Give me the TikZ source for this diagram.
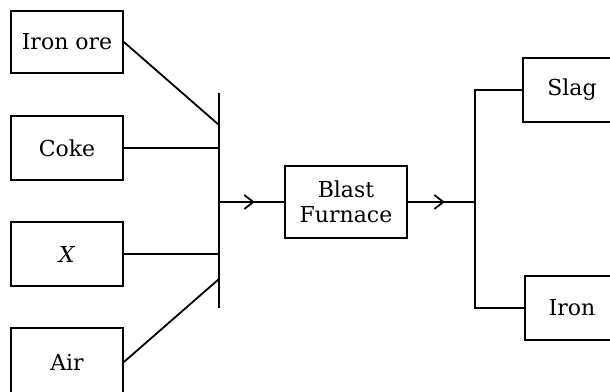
\documentclass[tikz,border=0pt]{standalone}
\usepackage{fontspec}
\setmainfont{DejaVu Serif}
\usetikzlibrary{arrows.meta,decorations.markings}
\begin{document}
\begin{tikzpicture}[x=1pt,y=-1pt,
  box/.style={draw, line width=1.8pt, inner sep=0pt, minimum width=112pt, minimum height=62pt,
    font=\fontsize{22}{25}\selectfont, align=center},
  conn/.style={line width=1.8pt},
  midarrow/.style={conn, decoration={markings, mark=at position #1 with {\arrow{Straight Barb[length=9pt,width=14pt,line width=1.8pt]}}}, postaction={decorate}}]
\useasboundingbox (0,0) rectangle (610,391);
\node[box] (ore) at (67,42) {Iron ore};
\node[box, minimum height=64pt] (coke) at (67,148) {Coke};
\node[box, minimum height=64pt] (x) at (67,254) {\textit{X}};
\node[box, minimum height=68pt] (air) at (67,362) {Air};
\node[box, minimum width=122pt, minimum height=72pt] (bf) at (346,202) {Blast\\Furnace};
\node[box, minimum width=98pt, minimum height=64pt] (slag) at (572,90) {Slag};
\node[box, minimum width=94pt, minimum height=64pt] (iron) at (572,308) {Iron};
% left collector bar
\coordinate (btop) at (219,93);
\coordinate (bbot) at (219,308);
\coordinate (jore) at (219,125);
\coordinate (jair) at (219,279);
\coordinate (jin) at (219,202);
\draw[conn] (btop) -- (bbot);
\draw[conn] (ore.east) -- (jore);
\draw[conn] (coke.east) -- (coke.east -| btop);
\draw[conn] (x.east) -- (x.east -| btop);
\draw[conn] (air.east) -- (jair);
\draw[midarrow=0.55] (jin) -- (bf.west);
% right splitter
\coordinate (jout) at (475,202);
\coordinate (stop) at (475,90);
\coordinate (sbot) at (475,308);
\draw[midarrow=0.55] (bf.east) -- (jout);
\draw[conn] (slag.west) -- (stop) -- (sbot) -- (iron.west);
\end{tikzpicture}
\end{document}
